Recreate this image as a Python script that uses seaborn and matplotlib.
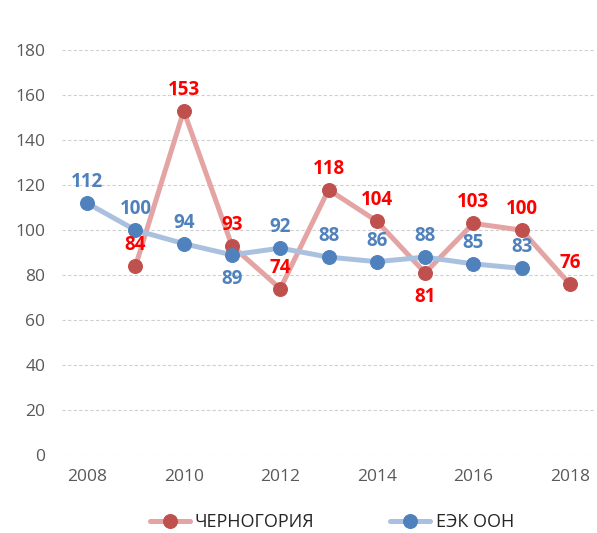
import numpy as np
import pandas as pd
import seaborn as sns
import matplotlib
matplotlib.use("Agg")
import matplotlib.pyplot as plt

# values
years_mne = [2009, 2010, 2011, 2012, 2013, 2014, 2015, 2016, 2017, 2018]
vals_mne = [84, 153, 93, 74, 118, 104, 81, 103, 100, 76]
pos_mne = ['a', 'a', 'a', 'a', 'a', 'a', 'b', 'a', 'a', 'a']   # label above / below

years_unece = [2008, 2009, 2010, 2011, 2012, 2013, 2014, 2015, 2016, 2017]
vals_unece = [112, 100, 94, 89, 92, 88, 86, 88, 85, 83]
pos_unece = ['a', 'a', 'a', 'b', 'a', 'a', 'a', 'a', 'a', 'a']

name_mne = "ЧЕРНОГОРИЯ"
name_unece = "ЕЭК ООН"

df_mne = pd.DataFrame({'year': years_mne, 'value': vals_mne})
df_unece = pd.DataFrame({'year': years_unece, 'value': vals_unece})

sns.set_style("white")
plt.rcParams['font.family'] = ['Open Sans', 'DejaVu Sans']

fig = plt.figure(figsize=(5.97, 5.33), dpi=100)
ax = fig.add_axes([0.104, 0.146, 0.891, 0.76])

sns.lineplot(data=df_mne, x='year', y='value', ax=ax, color='#E3A4A3', lw=3.6,
             marker='o', markersize=10, markerfacecolor='#C0504D',
             markeredgecolor='#C0504D', label=name_mne, zorder=2)
sns.lineplot(data=df_unece, x='year', y='value', ax=ax, color='#A9C1DF', lw=3.6,
             marker='o', markersize=10, markerfacecolor='#4F81BD',
             markeredgecolor='#4F81BD', label=name_unece, zorder=3)

# data labels
for x, y, p in zip(years_mne, vals_mne, pos_mne):
    dy = 8 if p == 'a' else -10
    ax.annotate(str(y), (x, y), xytext=(0, dy), textcoords='offset points',
                ha='center', va='bottom' if p == 'a' else 'top',
                color='#FF0000', fontsize=13.5, fontweight='bold', zorder=5)
for x, y, p in zip(years_unece, vals_unece, pos_unece):
    dy = 8 if p == 'a' else -10
    ax.annotate(str(y), (x, y), xytext=(0, dy), textcoords='offset points',
                ha='center', va='bottom' if p == 'a' else 'top',
                color='#4F81BD', fontsize=13.5, fontweight='bold', zorder=5)

ax.set_xlim(2007.48, 2018.5)
ax.set_ylim(0, 180)
ax.set_yticks(np.arange(0, 181, 20))
ax.set_xticks(np.arange(2008, 2019, 2))
ax.yaxis.grid(True, color='#D0D0D0', linestyle=(0, (3, 2)), lw=0.8)
ax.xaxis.grid(False)
ax.set_axisbelow(True)
sns.despine(ax=ax, left=True, bottom=True)
ax.tick_params(axis='both', length=0, labelsize=12.5, labelcolor='#595959')
ax.tick_params(axis='y', pad=12)
ax.tick_params(axis='x', pad=10)
ax.set_xlabel('')
ax.set_ylabel('')

ax.legend(loc='center', bbox_to_anchor=(0.507, -0.165), ncol=2, frameon=False,
          fontsize=13, handlelength=2.2, columnspacing=4.2, handletextpad=0.3,
          labelcolor='#262626')

fig.savefig('out.png', dpi=100)
